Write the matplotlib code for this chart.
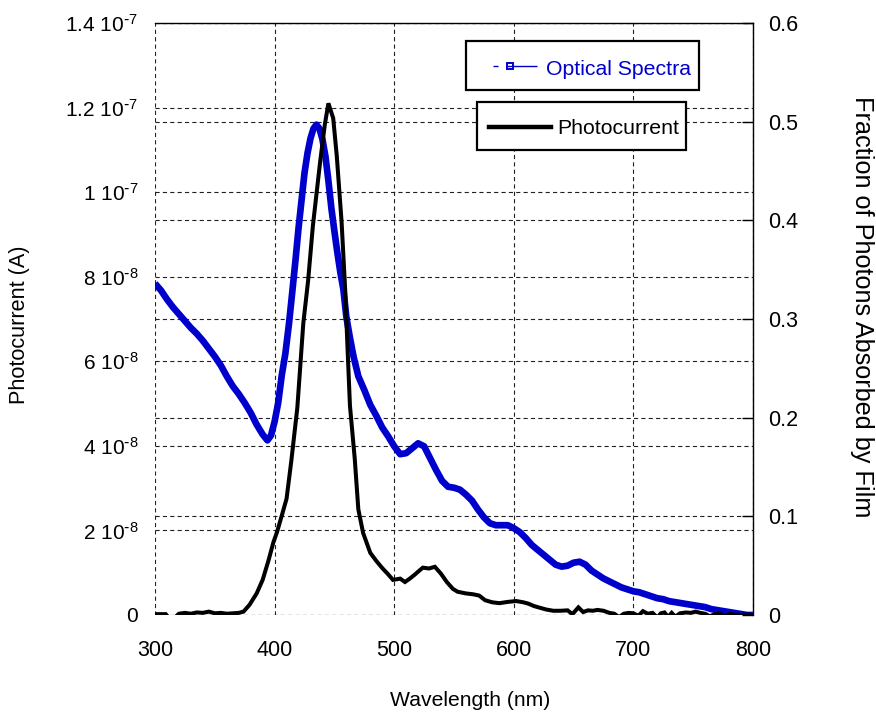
import matplotlib
matplotlib.use("Agg")
import matplotlib.pyplot as plt
import numpy as np
from matplotlib.lines import Line2D
from matplotlib.patches import Rectangle
from matplotlib.ticker import FixedLocator, FixedFormatter

plt.rcParams["font.family"] = ["Liberation Sans", "DejaVu Sans"]
plt.rcParams["mathtext.default"] = "regular"
plt.rcParams["lines.scale_dashes"] = False

# Fraction of photons absorbed by the film (right axis)
optical_wavelength = [
    300, 305, 310, 315, 320, 325, 330, 335, 340, 345, 350, 355, 360, 365, 370,
    375, 380, 385, 390, 394, 397, 400, 403, 406, 409, 412, 415, 417.5, 420,
    422.5, 425, 427.5, 430, 432.5, 435, 437.5, 440, 442.5, 445, 447.5, 450,
    452.5, 455, 457.5, 460, 463, 466, 470, 475, 480, 485, 490, 495, 500, 505,
    510, 515, 520, 525, 530, 535, 540, 545, 550, 555, 560, 565, 570, 575, 580,
    585, 590, 595, 600, 605, 610, 615, 620, 625, 630, 635, 640, 645, 650, 655,
    660, 665, 670, 675, 680, 685, 690, 695, 700, 705, 710, 715, 720, 725, 730,
    735, 740, 745, 750, 755, 760, 765, 770, 775, 780, 785, 790, 795, 800,
]
optical_fraction = [
    0.336, 0.329, 0.320, 0.312, 0.305, 0.298, 0.291, 0.285, 0.278, 0.270,
    0.262, 0.253, 0.242, 0.232, 0.224, 0.215, 0.205, 0.193, 0.183, 0.177,
    0.182, 0.196, 0.215, 0.243, 0.265, 0.295, 0.330, 0.360, 0.392, 0.420,
    0.448, 0.468, 0.483, 0.493, 0.497, 0.493, 0.482, 0.465, 0.440, 0.412,
    0.389, 0.367, 0.347, 0.330, 0.302, 0.281, 0.262, 0.242, 0.228, 0.213,
    0.202, 0.190, 0.181, 0.171, 0.163, 0.164, 0.169, 0.174, 0.171, 0.159,
    0.147, 0.136, 0.130, 0.129, 0.127, 0.122, 0.116, 0.107, 0.099, 0.093,
    0.091, 0.091, 0.091, 0.088, 0.084, 0.078, 0.071, 0.066, 0.061, 0.056,
    0.051, 0.049, 0.050, 0.053, 0.054, 0.051, 0.045, 0.041, 0.037, 0.034,
    0.031, 0.028, 0.026, 0.024, 0.023, 0.021, 0.019, 0.017, 0.016, 0.014,
    0.013, 0.012, 0.011, 0.010, 0.009, 0.008, 0.006, 0.005, 0.004, 0.003,
    0.002, 0.001, 0.000, 0.000,
]

# Photocurrent (left axis), in units of 1e-8 A
photo_wavelength = [
    300, 305, 309, 313, 317, 320, 325, 330, 335, 340, 345, 350, 355, 360, 365,
    370, 374, 379, 385, 390, 395, 399, 402, 406, 410, 414, 419, 424, 428, 432,
    438, 442, 445, 449, 452, 456, 459, 461, 463, 467, 470, 474, 480, 485, 490,
    495, 499, 505, 509, 513, 517, 521, 524, 529, 534, 539, 544, 549, 553, 560,
    566, 571, 576, 582, 588, 595, 602, 608, 612, 617, 622, 627, 633, 639, 645,
    649, 654, 658, 662, 666, 670, 675, 680, 684, 688, 692, 696, 700, 704, 708,
    712, 716, 720, 723, 726, 729, 732, 735, 739, 744, 748, 752, 756, 760, 764,
    768, 772, 776, 780, 785, 790, 795, 800,
]
photo_current_e8 = [
    0.02, 0.02, 0.02, -0.12, -0.05, 0.03, 0.05, 0.03, 0.06, 0.05, 0.08, 0.04,
    0.05, 0.03, 0.04, 0.05, 0.08, 0.24, 0.51, 0.83, 1.30, 1.72, 1.96, 2.35,
    2.75, 3.65, 4.90, 6.90, 7.90, 9.20, 10.70, 11.60, 12.10, 11.75, 10.85,
    9.30, 7.70, 6.30, 4.95, 3.70, 2.50, 1.94, 1.47, 1.28, 1.11, 0.96, 0.83,
    0.86, 0.78, 0.86, 0.95, 1.05, 1.12, 1.10, 1.14, 0.98, 0.78, 0.62, 0.55,
    0.51, 0.49, 0.46, 0.35, 0.30, 0.28, 0.31, 0.33, 0.30, 0.27, 0.21, 0.17,
    0.13, 0.10, 0.10, 0.11, 0.02, 0.18, 0.07, 0.11, 0.10, 0.12, 0.10, 0.05,
    0.03, -0.05, 0.03, 0.05, 0.04, -0.02, 0.09, 0.03, 0.05, -0.06, 0.04,
    0.06, -0.05, 0.05, -0.04, 0.04, 0.06, 0.05, 0.08, 0.05, 0.03, -0.03,
    0.02, 0.04, -0.02, 0.02, 0.01, 0.00, 0.01, 0.00,
]

x_ticks = [300, 400, 500, 600, 700, 800]
left_ticks = [0, 2e-8, 4e-8, 6e-8, 8e-8, 1e-7, 1.2e-7, 1.4e-7]
left_tick_labels = ["0", r"2 10$^{\text{-}8}$", r"4 10$^{\text{-}8}$",
                    r"6 10$^{\text{-}8}$", r"8 10$^{\text{-}8}$",
                    r"1 10$^{\text{-}7}$", r"1.2 10$^{\text{-}7}$",
                    r"1.4 10$^{\text{-}7}$"]
right_ticks = [0, 0.1, 0.2, 0.3, 0.4, 0.5, 0.6]
right_tick_labels = ["0", "0.1", "0.2", "0.3", "0.4", "0.5", "0.6"]

BLUE = "#0000cc"
W, H = 876, 715
fig = plt.figure(figsize=(W / 100, H / 100), dpi=100)
ax = fig.add_axes([155 / W, 1 - 615 / H, 598 / W, 592 / H])
ax2 = ax.twinx()

ax.set_xlim(300, 800)
ax.set_ylim(0, 1.4e-7)
ax2.set_ylim(0, 0.6)

grid_kw = dict(color="#202020", linewidth=0.8, linestyle=(0, (3.0, 2.3)))
ax.xaxis.set_major_locator(FixedLocator(x_ticks))
ax.yaxis.set_major_locator(FixedLocator(left_ticks))
ax.yaxis.set_major_formatter(FixedFormatter(left_tick_labels))
ax.grid(True, axis="both", **grid_kw)
ax2.yaxis.set_major_locator(FixedLocator(right_ticks))
ax2.yaxis.set_major_formatter(FixedFormatter(right_tick_labels))
ax2.grid(True, axis="y", **grid_kw)
ax2.set_axisbelow(True)

for s in ax.spines.values():
    s.set_visible(False)
ax2.spines["left"].set_visible(False)
ax2.spines["bottom"].set_visible(False)
for side in ("top", "right"):
    ax2.spines[side].set_linewidth(1.0)

TICK_FS = 15.5
ax.tick_params(axis="y", length=0, pad=12, labelsize=15.0)
ax.tick_params(axis="x", length=0, pad=18, labelsize=TICK_FS)
ax2.tick_params(axis="y", direction="in", length=8, width=1, pad=11,
                labelsize=TICK_FS)

# Absorption spectrum
ax2.plot(optical_wavelength, optical_fraction, color=BLUE, linewidth=4.8,
         solid_joinstyle="round", solid_capstyle="butt", zorder=3)

# Photocurrent drawn on top, in left-axis data coordinates
ax2.plot(photo_wavelength, np.array(photo_current_e8) * 1e-8,
         transform=ax.transData, color="black", linewidth=2.9,
         solid_joinstyle="miter", zorder=4, clip_on=True)

# Axis titles
fig.text(20 / W, 1 - 325 / H, "Photocurrent (A)", rotation=90,
         ha="center", va="center", fontsize=15.6)
fig.text(862 / W, 1 - 307 / H, "Fraction of Photons Absorbed by Film",
         rotation=270, ha="center", va="center", fontsize=18.2)
fig.text(470 / W, 1 - 700 / H, "Wavelength (nm)", ha="center",
         va="center", fontsize=15.2)

# Legend boxes
def px(x, y):
    return x / W, 1 - y / H

box1 = Rectangle(px(466, 90), 233 / W, 49 / H, transform=fig.transFigure,
                 fill=True, facecolor="white", edgecolor="black",
                 linewidth=1.6, zorder=10)
box2 = Rectangle(px(477, 150), 209 / W, 48 / H, transform=fig.transFigure,
                 fill=True, facecolor="white", edgecolor="black",
                 linewidth=1.6, zorder=10)
fig.add_artist(box1)
fig.add_artist(box2)

h1x, h1y = zip(px(493, 65.5), px(537, 65.5))
fig.add_artist(Line2D(h1x, h1y, transform=fig.transFigure, color=BLUE,
                      linewidth=1.0, linestyle=(0, (3.6, 6.5, 30, 0.1)),
                      zorder=11))
mx, my = px(509.5, 65.5)
fig.add_artist(Line2D([mx], [my], transform=fig.transFigure, color=BLUE,
                      marker="s", markersize=4.0, markerfacecolor="none",
                      markeredgewidth=1.4, linestyle="none", zorder=12))
tx, ty = px(546, 75)
fig.text(tx, ty, "Optical Spectra", color=BLUE, fontsize=15.3,
         ha="left", va="baseline", zorder=12)

h2x, h2y = zip(px(489, 127), px(551, 127))
fig.add_artist(Line2D(h2x, h2y, transform=fig.transFigure, color="black",
                      linewidth=3.2, zorder=11))
tx, ty = px(557, 134.5)
fig.text(tx, ty, "Photocurrent", color="black", fontsize=15.3,
         ha="left", va="baseline", zorder=12)

fig.savefig("out.png", dpi=100)
